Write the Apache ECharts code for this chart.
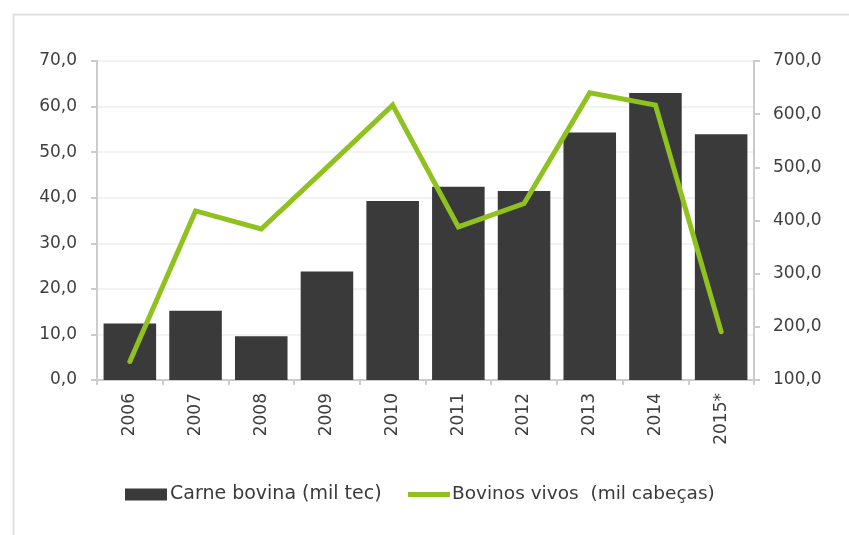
<!DOCTYPE html>
<html>
<head>
<meta charset="utf-8">
<script src="https://cdn.jsdelivr.net/npm/echarts@6/dist/echarts.min.js"></script>
<style>
  html, body { margin: 0; padding: 0; background: #ffffff; }
  #chart { width: 849px; height: 535px; }
</style>
</head>
<body>
<div id="chart"></div>
<script>
// Anos e valores das duas séries
const years = ['2006', '2007', '2008', '2009', '2010', '2011', '2012', '2013', '2014', '2015*'];
const carneBovina = [12.4, 15.2, 9.6, 23.8, 39.3, 42.4, 41.5, 54.3, 63.0, 53.9];
const bovinosVivos = [135, 418, 384, 500, 617, 388, 432, 640, 617, 191];

const nameBar = 'Carne bovina (mil tec)';
const nameLine = 'Bovinos vivos  (mil cabeças)';

const fontFamily = 'DejaVu Sans';
const textColor = '#3f3f3f';
const axisGray = '#cccccc';

const fmt = v => v.toFixed(1).replace('.', ',');

const chart = echarts.init(document.getElementById('chart'), null, { renderer: 'canvas' });

chart.setOption({
  animation: false,
  backgroundColor: '#ffffff',
  textStyle: { fontFamily: fontFamily },
  graphic: [{
    type: 'rect',
    left: 11, top: 12,
    shape: { width: 860, height: 560 },
    style: { fill: 'none', stroke: '#e0e0e0', lineWidth: 2 },
    silent: true
  }],
  grid: { left: 97, right: 95, top: 61, bottom: 155 },
  legend: [{
    data: [nameBar],
    left: 120, top: 480,
    icon: 'rect',
    itemWidth: 42, itemHeight: 12,
    textStyle: { fontFamily: fontFamily, fontSize: 19, color: '#3a3a3a', padding: [0, 0, 0, -2] }
  }, {
    data: [nameLine],
    left: 403, top: 480,
    icon: 'rect',
    itemWidth: 42, itemHeight: 5,
    textStyle: { fontFamily: fontFamily, fontSize: 18.5, color: '#3a3a3a', padding: [0, 0, 0, -3] }
  }],
  xAxis: {
    type: 'category',
    data: years,
    axisLine: { lineStyle: { color: axisGray, width: 2 } },
    axisTick: { show: true, length: 5, lineStyle: { color: axisGray, width: 2 } },
    axisLabel: {
      rotate: 90, margin: 13, interval: 0,
      fontFamily: fontFamily, fontSize: 17, color: textColor
    }
  },
  yAxis: [{
    type: 'value',
    min: 0, max: 70, interval: 10,
    position: 'left',
    axisLine: { show: true, lineStyle: { color: axisGray, width: 2 } },
    axisTick: { show: true, length: 6, lineStyle: { color: axisGray, width: 2 } },
    splitLine: { show: true, lineStyle: { color: '#eeeeee', width: 1.5 } },
    axisLabel: { formatter: fmt, margin: 20, fontFamily: fontFamily, fontSize: 17, color: textColor }
  }, {
    type: 'value',
    min: 100, max: 700, interval: 100,
    position: 'right',
    axisLine: { show: true, lineStyle: { color: axisGray, width: 2 } },
    axisTick: { show: true, length: 6, lineStyle: { color: axisGray, width: 2 } },
    splitLine: { show: false },
    axisLabel: { formatter: fmt, margin: 19, fontFamily: fontFamily, fontSize: 17, color: textColor }
  }],
  series: [{
    name: nameBar,
    type: 'bar',
    yAxisIndex: 0,
    data: carneBovina,
    barWidth: '80%',
    itemStyle: { color: '#3a3a3a' }
  }, {
    name: nameLine,
    type: 'line',
    yAxisIndex: 1,
    data: bovinosVivos,
    color: '#8fc21f',
    symbol: 'none',
    lineStyle: { color: '#8fc21f', width: 5, cap: 'round', join: 'miter' },
    z: 3
  }]
});
</script>
</body>
</html>
